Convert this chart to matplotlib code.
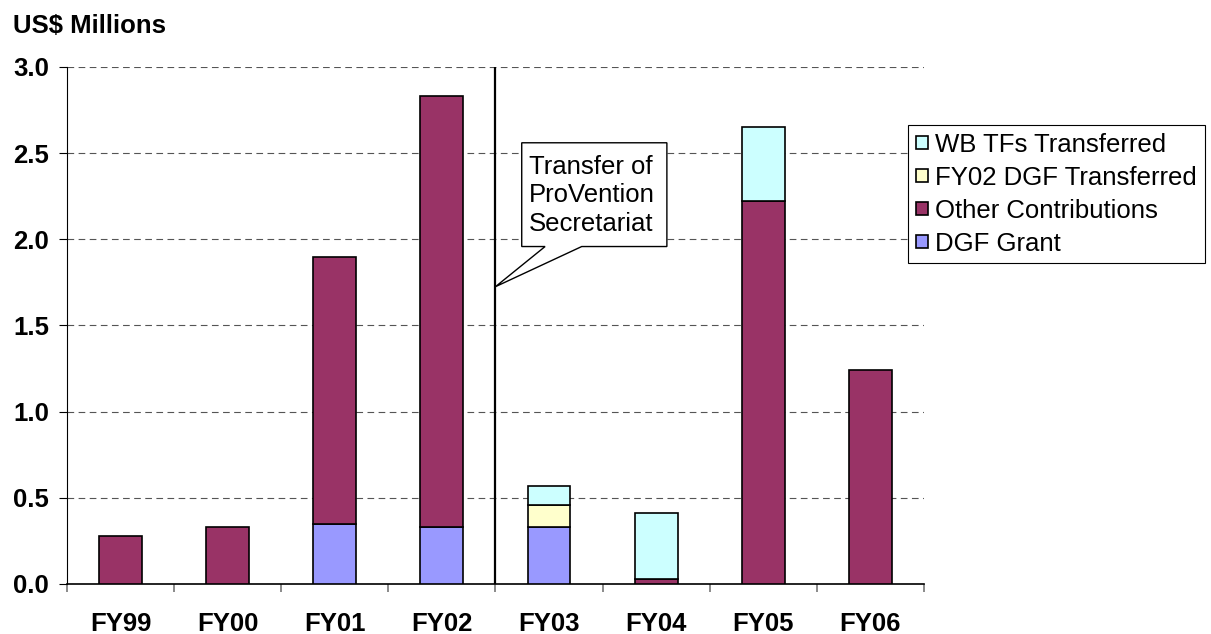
import matplotlib.pyplot as plt
import numpy as np
from matplotlib.patches import Polygon

plt.rcParams['font.family'] = ['Liberation Sans', 'DejaVu Sans']

# data (US$ millions)
years = ["FY99", "FY00", "FY01", "FY02", "FY03", "FY04", "FY05", "FY06"]
dgf_grant = [0.0, 0.0, 0.35, 0.33, 0.33, 0.0, 0.0, 0.0]
other_contrib = [0.28, 0.33, 1.55, 2.50, 0.0, 0.03, 2.22, 1.24]
fy02_dgf = [0.0, 0.0, 0.0, 0.0, 0.13, 0.0, 0.0, 0.0]
wb_tfs = [0.0, 0.0, 0.0, 0.0, 0.11, 0.38, 0.43, 0.0]

series = [
    ("DGF Grant", dgf_grant, "#9999FF"),
    ("Other Contributions", other_contrib, "#993366"),
    ("FY02 DGF Transferred", fy02_dgf, "#FFFFCC"),
    ("WB TFs Transferred", wb_tfs, "#CCFFFF"),
]

fig = plt.figure(figsize=(12.11, 6.34), dpi=100)
ax = fig.add_axes([0.0553, 0.0789, 0.7077, 0.8155])

x = np.arange(len(years))
bottom = np.zeros(len(years))
handles = {}
for name, vals, col in series:
    vals = np.array(vals)
    mask = vals > 0
    b = ax.bar(x[mask], vals[mask], width=0.4, bottom=bottom[mask], color=col,
               edgecolor="black", linewidth=1.2, zorder=3, label=name)
    handles[name] = b
    bottom += vals

ax.set_xlim(-0.5, len(years) - 0.5)
ax.set_ylim(0, 3.0)
ax.set_yticks(np.arange(0, 3.01, 0.5))
ax.set_yticklabels([f"{v:.1f}" for v in np.arange(0, 3.01, 0.5)],
                   fontsize=18.5, fontweight="bold")
ax.yaxis.grid(True, linestyle=(0, (6, 4)), color="#555555", linewidth=0.8, zorder=0)
ax.set_axisbelow(True)

# category boundaries as major ticks, labels on minor ticks
ax.set_xticks(np.arange(-0.5, len(years), 1.0))
ax.set_xticklabels([])
ax.set_xticks(x, minor=True)
ax.set_xticklabels(years, minor=True, fontsize=18.5, fontweight="bold")
ax.tick_params(axis="x", which="major", length=6, color="#777777", width=1.2)
ax.tick_params(axis="x", which="minor", length=0, pad=20)
ax.tick_params(axis="y", length=6, width=0.8, pad=7)

for s in ["top", "right"]:
    ax.spines[s].set_visible(False)
ax.spines["left"].set_linewidth(0.8)
ax.spines["bottom"].set_linewidth(1.2)

# transfer marker
ax.axvline(3.5, color="black", linewidth=1.6, zorder=4)
callout = Polygon([(3.745, 2.56), (5.10, 2.56), (5.10, 1.958), (4.305, 1.958),
                   (3.5, 1.725), (3.963, 1.958), (3.745, 1.958)],
                  closed=True, facecolor="white", edgecolor="black",
                  linewidth=1.0, zorder=5)
ax.add_patch(callout)
ax.text(3.81, 2.255, "Transfer of\nProVention\nSecretariat", fontsize=18.5,
        ha="left", va="center", linespacing=1.22, zorder=6)

fig.text(0.0105, 0.948, "US$ Millions", fontsize=18.5, fontweight="bold",
         ha="left", va="baseline")

order = ["WB TFs Transferred", "FY02 DGF Transferred", "Other Contributions", "DGF Grant"]
leg = fig.legend([handles[n] for n in order], order, loc="upper left",
                 bbox_to_anchor=(0.75, 0.803), fontsize=18.5, frameon=True,
                 fancybox=False, edgecolor="black", framealpha=1,
                 handlelength=0.45, handleheight=0.45, handletextpad=0.3,
                 labelspacing=0.35, borderpad=0.3, borderaxespad=0)
leg.get_frame().set_linewidth(0.8)

fig.savefig("out.png", dpi=100)
